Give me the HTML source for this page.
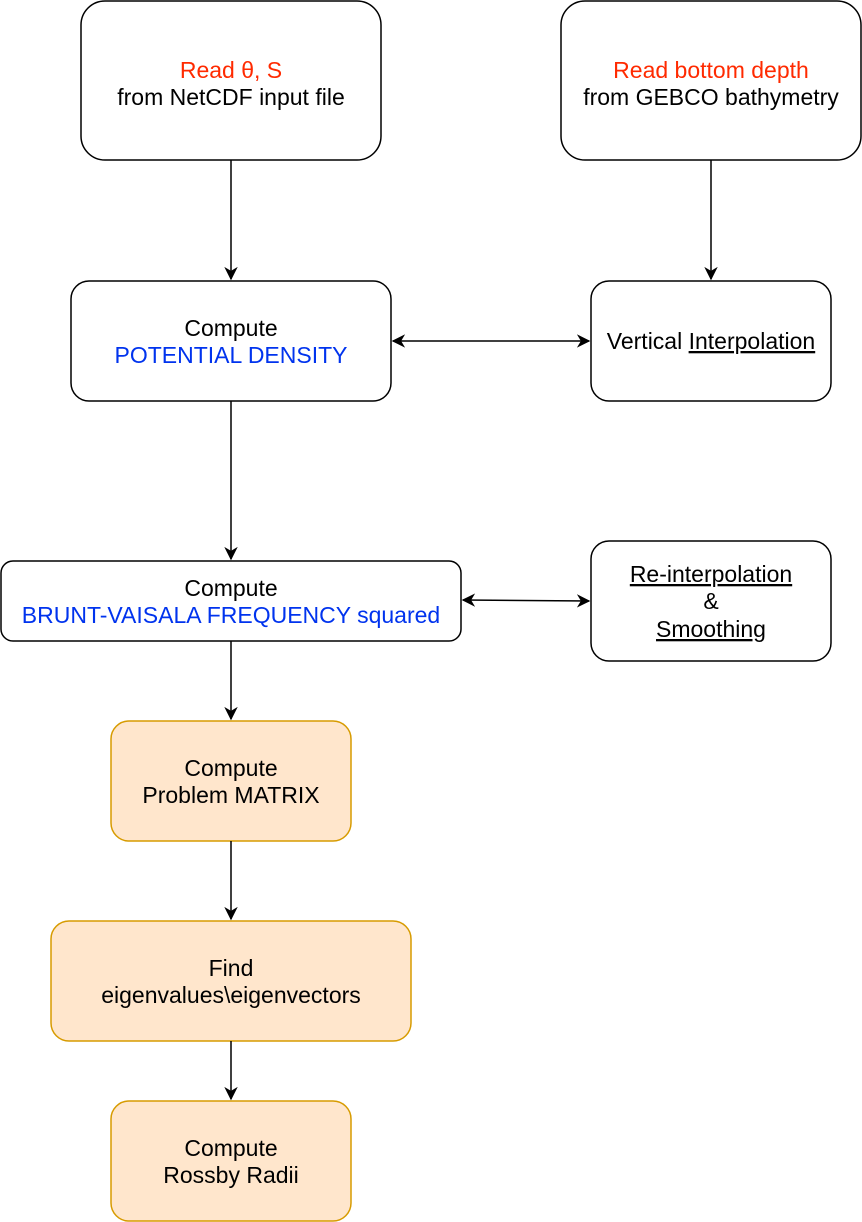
<!DOCTYPE html>
<html><head><meta charset="utf-8"><style>
html,body{margin:0;padding:0;background:#fff;}
svg{display:block;}
text{font-family:"Liberation Sans",Arial,sans-serif;font-size:23px;text-anchor:middle;fill:#000;}
.r{fill:#ff2a00}.b{fill:#0033ee}
.u{text-decoration:underline;}
</style></head><body>
<svg width="862" height="1222" viewBox="0 0 862 1222" xmlns="http://www.w3.org/2000/svg">
<defs><marker id="a" viewBox="0 0 10 10" refX="9" refY="5" markerWidth="9" markerHeight="9" orient="auto-start-reverse"><path d="M0,0 L10,5 L0,10 L3,5 z" fill="#000"/></marker></defs>
<g fill="#fff" stroke="#000" stroke-width="1.5">
<rect x="81" y="1" width="300" height="159" rx="24"/>
<rect x="561" y="1" width="300" height="159" rx="24"/>
<rect x="71" y="281" width="320" height="120" rx="18"/>
<rect x="591" y="281" width="240" height="120" rx="18"/>
<rect x="1" y="561" width="460" height="80" rx="12"/>
<rect x="591" y="541" width="240" height="120" rx="18"/>
</g>
<g fill="#ffe6cc" stroke="#d79b00" stroke-width="1.5">
<rect x="111" y="721" width="240" height="120" rx="18"/>
<rect x="51" y="921" width="360" height="120" rx="18"/>
<rect x="111" y="1101" width="240" height="120" rx="18"/>
</g>
<g stroke="#000" stroke-width="1.5" fill="none">
<line x1="231" y1="160" x2="231" y2="279" marker-end="url(#a)"/>
<line x1="711" y1="160" x2="711" y2="279" marker-end="url(#a)"/>
<line x1="393" y1="341" x2="589" y2="341" marker-start="url(#a)" marker-end="url(#a)"/>
<line x1="231" y1="401" x2="231" y2="559" marker-end="url(#a)"/>
<line x1="463" y1="600" x2="589" y2="601" marker-start="url(#a)" marker-end="url(#a)"/>
<line x1="231" y1="641" x2="231" y2="719" marker-end="url(#a)"/>
<line x1="231" y1="841" x2="231" y2="919" marker-end="url(#a)"/>
<line x1="231" y1="1041" x2="231" y2="1099" marker-end="url(#a)"/>
</g>
<text x="231" y="78" class="r">Read θ, S</text>
<text x="231" y="105">from NetCDF input file</text>
<text x="711" y="78" class="r">Read bottom depth</text>
<text x="711" y="105">from GEBCO bathymetry</text>
<text x="231" y="336">Compute</text>
<text x="231" y="363" class="b">POTENTIAL DENSITY</text>
<text x="711" y="349">Vertical <tspan class="u">Interpolation</tspan></text>
<text x="231" y="596">Compute</text>
<text x="231" y="623" class="b">BRUNT-VAISALA FREQUENCY squared</text>
<text x="711" y="582" class="u">Re-interpolation</text>
<text x="711" y="609">&amp;</text>
<text x="711" y="637" class="u">Smoothing</text>
<text x="231" y="776">Compute</text>
<text x="231" y="803">Problem MATRIX</text>
<text x="231" y="976">Find</text>
<text x="231" y="1003">eigenvalues\eigenvectors</text>
<text x="231" y="1156">Compute</text>
<text x="231" y="1183">Rossby Radii</text>
</svg>
</body></html>
